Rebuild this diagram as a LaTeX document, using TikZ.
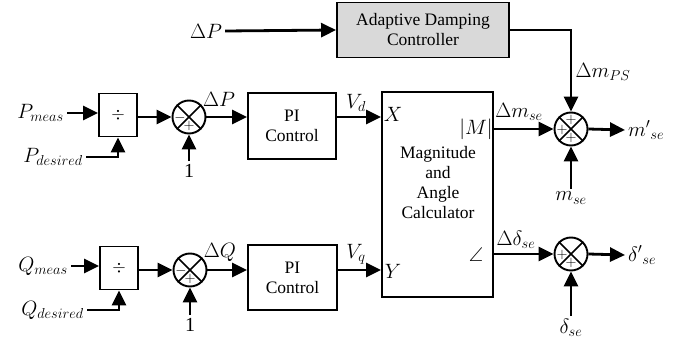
\documentclass[tikz,border=0pt]{standalone}
\usepackage{fontspec}
\setmainfont{Liberation Serif}
\usepackage{amsmath,amssymb}
\usetikzlibrary{arrows.meta,calc}
\definecolor{adcfill}{HTML}{D9D9D9}

\begin{document}
\begin{tikzpicture}[x=1pt,y=-1pt,
  blk/.style={draw,line width=1.9pt,align=center,inner sep=0pt,font=\fontsize{17.5}{20}\selectfont},
  sumj/.style={draw,circle,line width=1.9pt,minimum size=33pt,inner sep=0pt},
  sig/.style={line width=2.8pt,-{Triangle[length=15pt,width=14pt]}},
  lbl/.style={font=\fontsize{20}{23}\selectfont,inner sep=3pt},
  sgn/.style={font=\fontsize{14}{14}\selectfont,inner sep=0pt}]
  \useasboundingbox (0,0) rectangle (690,342);

  % Adaptive damping path
  \node[lbl] (dPin) at (206,31) {$\Delta P$};
  \node[blk,fill=adcfill,minimum width=172pt,minimum height=55pt] (adc) at (423,30) {Adaptive Damping\\Controller};
  \draw[sig] (dPin.east) -- (adc.west);

  % P channel
  \node[lbl,anchor=east] (Pmeas) at (67,113) {$P_{meas}$};
  \node[lbl,anchor=east] (Pdes) at (86,157) {$P_{desired}$};
  \node[blk,minimum width=38pt,minimum height=43pt] (dvP) at (118,115) {$\div$};
  \node[sumj] (sumP) at (189,117) {};
  \node[lbl] (oneP) at (189,171) {1};
  \node[blk,minimum width=88pt,minimum height=66pt] (piP) at (292,126) {PI\\Control};
  \draw[sig] (Pmeas.east) -- (Pmeas.east -| dvP.west);
  \draw[sig] (Pdes.east) -| (dvP.south);
  \draw[sig] (dvP.east |- sumP) -- (sumP.west);
  \draw[sig] (oneP.north) -- (sumP.south);
  \draw[sig] (sumP.east) -- (sumP.east -| piP.west);
  \node[lbl] at (219,99) {$\Delta P$};

  % Q channel
  \node[lbl,anchor=east] (Qmeas) at (71,266) {$Q_{meas}$};
  \node[lbl,anchor=east] (Qdes) at (87,310) {$Q_{desired}$};
  \node[blk,minimum width=38pt,minimum height=43pt] (dvQ) at (119,268) {$\div$};
  \node[sumj] (sumQ) at (190,270) {};
  \node[lbl] (oneQ) at (190,325) {1};
  \node[blk,minimum width=89pt,minimum height=65pt] (piQ) at (292.5,277.5) {PI\\Control};
  \draw[sig] (Qmeas.east) -- (Qmeas.east -| dvQ.west);
  \draw[sig] (Qdes.east) -| (dvQ.south);
  \draw[sig] (dvQ.east |- sumQ) -- (sumQ.west);
  \draw[sig] (oneQ.north) -- (sumQ.south);
  \draw[sig] (sumQ.east) -- (sumQ.east -| piQ.west);
  \node[lbl] at (220,252) {$\Delta Q$};

  % Magnitude and angle calculator
  \node[blk,minimum width=111pt,minimum height=205pt] (mac) at (437.5,194.5) {};
  \node[blk,draw=none] (macTxt) at (438,183) {Magnitude\\and\\Angle\\Calculator};
  \node[lbl] (xin) at (393,114) {$X$};
  \node[lbl] (yin) at (393,271) {$Y$};
  \node[lbl] (magOut) at (476,129) {$|M|$};
  \node[lbl] (angOut) at (476,255) {$\angle$};
  \draw[sig] (piP.east |- sumP) -- (mac.west |- sumP);
  \draw[sig] (piQ.east |- sumQ) -- (mac.west |- sumQ);
  \node[lbl] at (356,103) {$V_d$};
  \node[lbl] at (356,254) {$V_q$};

  % Output summing junctions
  \node[sumj] (sumM) at (571,129) {};
  \node[sumj] (sumD) at (571,254) {};
  \node[lbl] (mse) at (571,198) {$m_{se}$};
  \node[lbl] (dse) at (571,328) {$\delta_{se}$};
  \node[lbl,anchor=west] (mOut) at (625,130) {$m^{\prime}{}_{se}$};
  \node[lbl,anchor=west] (dOut) at (625,255) {$\delta^{\prime}{}_{se}$};
  \draw[sig] (adc.east) -| (sumM.north);
  \draw[sig] (mac.east |- sumM) -- (sumM.west);
  \draw[sig] (mac.east |- sumD) -- (sumD.west);
  \draw[sig] (mse.north) -- (sumM.south);
  \draw[sig] (dse.north) -- (sumD.south);
  \draw[sig] (sumM.east) -- (mOut.west);
  \draw[sig] (sumD.east) -- (dOut.west);
  \node[lbl] at (603,72) {$\Delta m_{PS}$};
  \node[lbl] at (519,112) {$\Delta m_{se}$};
  \node[lbl] at (516,240) {$\Delta\delta_{se}$};

  % crosses and signs
  \foreach \s in {sumP,sumQ,sumM,sumD}
    \draw[line width=1.7pt] (\s.north west) -- (\s.south east) (\s.north east) -- (\s.south west);
  \node[sgn] at ($(sumP)+(-9,1)$) {$-$};
  \node[sgn] at ($(sumP)+(0,9)$) {$+$};
  \node[sgn] at ($(sumQ)+(-9,1)$) {$-$};
  \node[sgn] at ($(sumQ)+(0,9)$) {$+$};
  \node[sgn] at ($(sumM)+(0,-9)$) {$+$};
  \node[sgn] at ($(sumM)+(-9,1)$) {$+$};
  \node[sgn] at ($(sumM)+(0,9)$) {$+$};
  \node[sgn] at ($(sumD)+(-9,1)$) {$+$};
  \node[sgn] at ($(sumD)+(0,9)$) {$+$};
\end{tikzpicture}
\end{document}
